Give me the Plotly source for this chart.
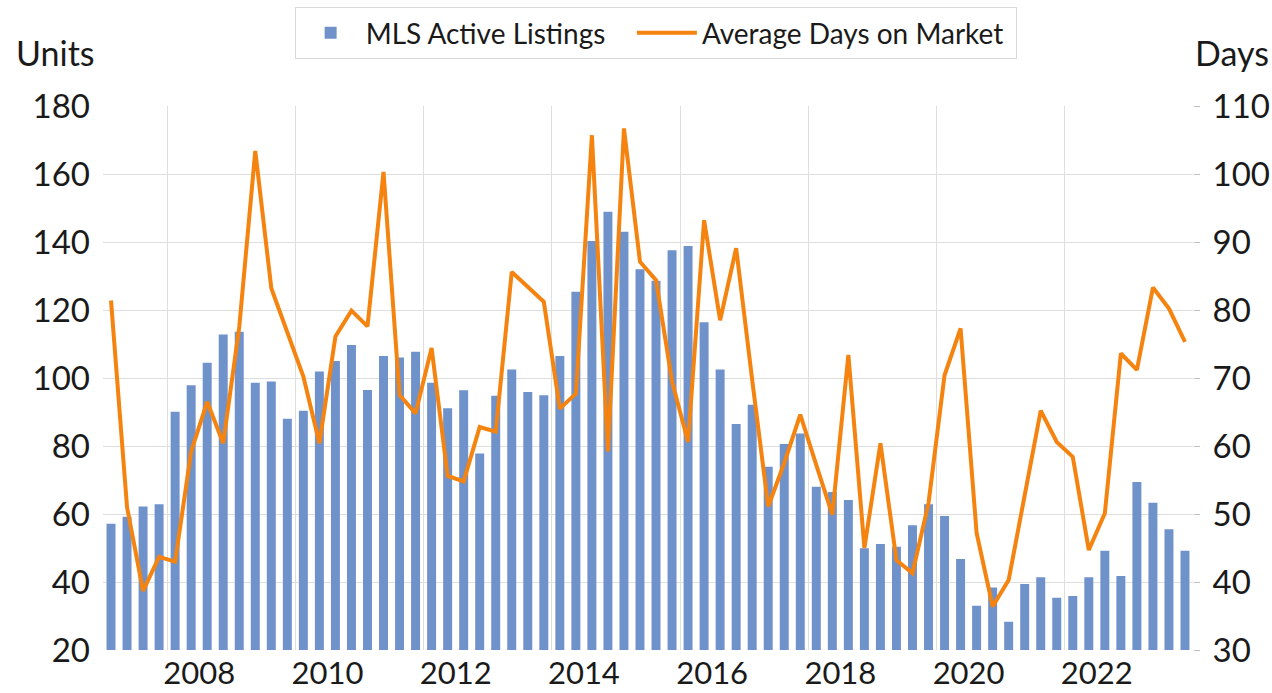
import plotly.graph_objects as go

# Quarterly periods, 2007 Q1 .. 2023 Q4
quarters = [f"{y} Q{q}" for y in range(2007, 2024) for q in range(1, 5)]

active_listings = [
    57.1, 59.2, 62.2, 62.9, 90.1, 97.9, 104.5, 112.8, 113.6, 98.6,
    99.0, 88.0, 90.4, 101.9, 105.0, 109.7, 96.5, 106.5, 106.0, 107.7,
    98.6, 91.1, 96.4, 77.8, 94.8, 102.5, 95.9, 94.9, 106.5, 125.4,
    140.3, 148.9, 143.0, 132.0, 128.6, 137.6, 138.8, 116.4, 102.5, 86.5,
    92.1, 73.9, 80.6, 83.7, 68.0, 66.5, 64.1, 49.9, 51.2, 50.4,
    56.7, 62.9, 59.4, 46.8, 33.0, 38.4, 28.3, 39.4, 41.4, 35.4,
    35.9, 41.4, 49.2, 41.8, 69.4, 63.3, 55.5, 49.2,
]

avg_days_on_market = [
    81.4, 51.0, 38.7, 43.7, 43.0, 59.2, 66.5, 60.4, 77.5, 103.4,
    83.2, 76.6, 70.2, 60.4, 76.1, 79.9, 77.6, 100.3, 67.5, 64.8,
    74.4, 55.6, 54.8, 62.8, 62.1, 85.6, 83.4, 81.2, 65.5, 67.7,
    105.7, 59.2, 106.7, 87.1, 84.4, 69.5, 60.6, 93.2, 78.5, 89.1,
    69.7, 51.1, 57.5, 64.6, 57.2, 49.9, 73.4, 45.0, 60.4, 43.2,
    41.3, 51.6, 70.4, 77.3, 47.2, 36.4, 40.3, 52.7, 65.2, 60.6,
    58.4, 44.7, 50.1, 73.6, 71.2, 83.3, 80.2, 75.3,
]

year_labels = ["2008", "2010", "2012", "2014", "2016", "2018", "2020", "2022"]
units_ticks = [20, 40, 60, 80, 100, 120, 140, 160, 180]
days_ticks = [30, 40, 50, 60, 70, 80, 90, 100, 110]

idx = list(range(len(quarters)))
label_pos = [5.5 + 8 * k for k in range(len(year_labels))]
grid_pos = [3.5 + 8 * k for k in range(len(year_labels))]

FONT = "Lato"
TXT = "#1a1a1a"
GRID = "#DEDEDE"
PAD = "\u00a0"

fig = go.Figure()
fig.add_trace(go.Bar(
    x=idx, y=active_listings, name="MLS Active Listings" + PAD * 3,
    marker=dict(color="#7092CB", line=dict(width=0)),
    customdata=quarters, hovertemplate="%{customdata}: %{y}<extra></extra>",
))
fig.add_trace(go.Scatter(
    x=idx, y=avg_days_on_market, name="Average Days on Market" + PAD,
    mode="lines", line=dict(color="#F5830F", width=4), yaxis="y2",
    customdata=quarters, hovertemplate="%{customdata}: %{y}<extra></extra>",
))

fig.update_layout(
    width=1272, height=693,
    margin=dict(l=103, r=79, t=106, b=43, autoexpand=False),
    paper_bgcolor="white", plot_bgcolor="white",
    font=dict(family=FONT, color=TXT, size=33),
    bargap=0.44,
    showlegend=True,
    legend=dict(
        orientation="h", x=0.507, xanchor="center", y=1.134, yanchor="middle",
        bordercolor="#D9D9D9", borderwidth=1, bgcolor="white",
        font=dict(size=28, family=FONT, color=TXT),
        itemwidth=60,
    ),
    xaxis=dict(
        range=[-0.5, 67.5], automargin=False,
        tickmode="array", tickvals=label_pos, ticktext=year_labels,
        showgrid=False, zeroline=False, showline=False, ticks="",
        tickfont=dict(size=31), ticklabelstandoff=2,
        minor=dict(tickmode="array", tickvals=grid_pos, showgrid=True,
                   gridcolor=GRID, gridwidth=1, ticks=""),
    ),
    yaxis=dict(
        range=[20, 180], automargin=False,
        tickmode="array", tickvals=units_ticks,
        showgrid=False, zeroline=False, showline=False, ticks="",
        tickfont=dict(size=33), ticklabelstandoff=12,
        minor=dict(tickmode="array", tickvals=units_ticks[1:-1], showgrid=True,
                   gridcolor=GRID, gridwidth=1, ticks=""),
    ),
    yaxis2=dict(
        range=[30, 110], overlaying="y", side="right", automargin=False,
        tickmode="array", tickvals=days_ticks,
        showgrid=False, zeroline=False, showline=False,
        ticks="outside", ticklen=6, tickcolor="#BFBFBF", tickwidth=1,
        tickfont=dict(size=33), ticklabelstandoff=6,
    ),
    annotations=[
        dict(text="Units", xref="paper", yref="paper", x=-0.044, y=1.099,
             xanchor="center", yanchor="middle", showarrow=False,
             font=dict(size=34, family=FONT, color=TXT)),
        dict(text="Days", xref="paper", yref="paper", x=1.036, y=1.099,
             xanchor="center", yanchor="middle", showarrow=False,
             font=dict(size=34, family=FONT, color=TXT)),
    ],
)

fig.write_html(
    "out.html",
    config={"displayModeBar": False},
    post_script="document.documentElement.style.margin='0';"
                "document.body.style.margin='0';document.body.style.overflow='hidden';",
)
